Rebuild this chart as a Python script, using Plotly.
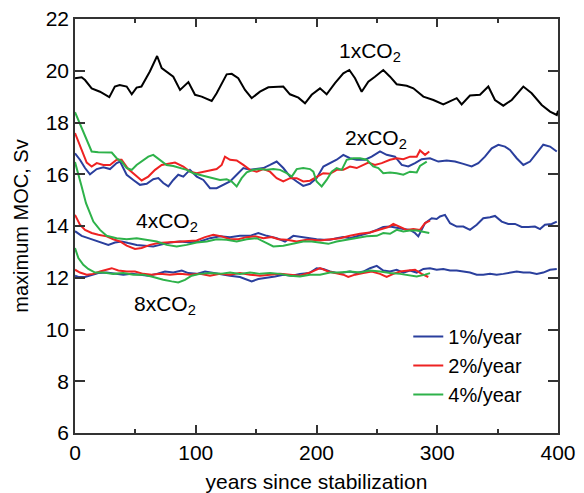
import plotly.graph_objects as go

# ---------------- data ----------------
x_1x = [0, 5.5, 8.3, 13.8, 20.7, 28.4, 33, 37, 42.8, 47, 51, 55, 62, 68, 71.8, 77.3, 81.4, 87, 93.9, 99.4,
        104.9, 113.2, 117.3, 125.6, 129.8, 135.2, 140.8, 146.3, 153.2, 160.1, 172.5, 178, 185, 190.5, 196,
        202.9, 208.4, 215.3, 222.2, 227.2, 231.9, 237.4, 242.9, 248.4, 255.3, 260.9, 266.4, 274.7, 280.2,
        288.5, 296.8, 305, 316.1, 320.2, 327.1, 335.4, 342.3, 347.8, 354.7, 361.7, 371.3, 378.2, 386.5,
        393.4, 399, 400]
y_1x = [19.71, 19.75, 19.64, 19.32, 19.19, 18.98, 19.39, 19.45, 19.39, 19.09, 19.35, 19.39, 19.97, 20.57,
        20.1, 19.9, 19.77, 19.26, 19.56, 19.07, 19.0, 18.83, 19.13, 19.86, 19.88, 19.71, 19.26, 18.94, 19.19,
        19.36, 19.39, 19.09, 18.96, 18.74, 19.07, 19.32, 19.09, 19.52, 19.9, 20.03, 19.71, 19.19, 19.58,
        19.77, 20.03, 19.77, 19.48, 19.42, 19.32, 19.0, 18.87, 18.7, 18.94, 18.7, 19.04, 19.07, 19.39, 18.87,
        18.65, 18.87, 19.39, 19.13, 18.68, 18.42, 18.29, 18.45]

# 2xCO2
x_2x_1 = [0, 4.1, 8.3, 12.4, 18, 23.5, 29, 34.5, 37.3, 42.8, 48.3, 53.8, 59.4, 64.8, 69, 73.1, 77.3, 81.4,
          85.5, 89.7, 95.2, 100.8, 106.3, 111.8, 117.3, 122.8, 128.4, 133.9, 139.4, 144.9, 150.5, 156, 161.5,
          167, 172.5, 178.1, 183.6, 189, 194.6, 200.1, 205.7, 211.2, 216.7, 222.2, 227.7, 233.3, 240.2, 245.7,
          252.6, 258.1, 265, 270.6, 276, 281.6, 287.1, 294, 300.9, 307.8, 314.7, 321.6, 328.5, 334, 339.5,
          345.1, 350.6, 356.1, 360.2, 365.8, 371.3, 376.8, 382.4, 387.8, 393.4, 399]
y_2x_1 = [16.81, 16.56, 16.24, 16.0, 16.2, 16.27, 16.2, 16.43, 16.49, 15.98, 15.78, 15.59, 15.63, 15.81,
          15.85, 15.66, 15.53, 15.78, 15.98, 15.91, 16.17, 15.91, 15.78, 15.46, 15.46, 15.59, 15.72, 15.98,
          16.24, 16.17, 16.2, 16.24, 16.36, 16.49, 16.24, 15.91, 15.72, 15.55, 15.63, 15.85, 16.3, 16.43,
          16.56, 16.75, 16.62, 16.56, 16.56, 16.68, 16.88, 16.75, 16.68, 16.36, 16.3, 16.43, 16.58, 16.62,
          16.49, 16.53, 16.49, 16.4, 16.3, 16.43, 16.68, 17.0, 17.14, 17.07, 16.94, 16.62, 16.36, 16.49,
          16.82, 17.14, 17.07, 16.88]
x_2x_2 = [0, 2.8, 5.5, 9.7, 13.8, 18, 23.5, 29, 34.5, 38.6, 44.1, 49.7, 55.2, 60.7, 66.3, 71.8, 77.3, 82.8,
          89.7, 95.2, 100.8, 106.3, 111.8, 117.3, 121.5, 124.2, 128.4, 133.9, 139.4, 144.9, 150.5, 156, 161.5,
          167, 172.5, 178.1, 183.6, 189, 194.6, 200.1, 205.6, 211.2, 216.7, 222.2, 227.7, 233.3, 238.8, 242.9,
          248.4, 254, 260.9, 266.4, 271.9, 277.4, 283, 285.7, 289.9, 293.4]
y_2x_2 = [17.59, 17.26, 16.88, 16.45, 16.3, 16.43, 16.36, 16.36, 16.56, 16.56, 16.2, 15.98, 15.76, 15.91,
          16.17, 16.36, 16.4, 16.45, 16.3, 16.1, 16.04, 16.1, 16.14, 16.2, 16.36, 16.68, 16.56, 16.53, 16.36,
          16.17, 16.1, 16.2, 16.1, 15.85, 15.72, 15.85, 15.85, 15.72, 15.75, 15.91, 16.04, 16.02, 16.17, 16.17,
          16.3, 16.24, 16.36, 16.45, 16.36, 16.43, 16.56, 16.62, 16.58, 16.68, 16.68, 16.92, 16.75, 16.88]
x_2x_4 = [0, 2.8, 6.9, 11, 13.8, 19.3, 26.2, 30.4, 34.5, 38.6, 42.8, 47, 51, 55.2, 60.7, 64.8, 70.4, 75.9,
          81.4, 87, 92.5, 98, 103.5, 109.1, 114.6, 120.1, 125.6, 129.8, 133.9, 138, 142.2, 147.7, 153.2, 158.8,
          164.2, 169.8, 175.3, 179.5, 183.6, 189, 194.6, 197.4, 200.1, 204.3, 208.4, 212.6, 216.7, 220.9, 225,
          230.5, 236, 241.6, 247, 251.2, 255.3, 260.9, 266.4, 271.9, 277.4, 283, 285.7, 289.9, 291.3]
y_2x_4 = [18.4, 18.1, 17.65, 17.2, 16.88, 16.85, 16.84, 16.84, 16.62, 16.49, 16.24, 16.17, 16.36, 16.49,
          16.68, 16.75, 16.56, 16.36, 16.32, 16.24, 16.17, 16.04, 15.98, 15.91, 15.85, 15.78, 15.81, 15.72,
          15.53, 15.85, 16.07, 16.17, 16.2, 16.17, 16.2, 16.17, 16.04, 15.91, 16.2, 16.24, 16.2, 16.1, 15.72,
          15.53, 15.78, 16.1, 16.24, 16.17, 16.56, 16.62, 16.62, 16.56, 16.3, 16.24, 16.04, 16.07, 16.04,
          15.98, 16.1, 16.07, 16.32, 16.43, 16.49]

# 4xCO2
x_4x_1 = [0, 5.5, 11, 16.6, 22.1, 27.6, 33.1, 38.7, 44.1, 51.1, 58, 64.8, 70.4, 78.7, 87, 95.2, 103.5, 111.8,
          120.1, 128.4, 136.6, 144.9, 151.8, 158.8, 167, 173.9, 180.8, 189, 196, 200.1, 205.7, 211.2, 216.7,
          222.2, 227.7, 233.3, 238.8, 244.3, 249.9, 255.3, 260.9, 266.4, 271.9, 277.4, 281.6, 284.3, 287.1,
          289.9, 295.4, 299.5, 302.3, 306.4, 310.6, 316.1, 321.6, 327.1, 332.7, 338.1, 343.7, 347.8, 353.4,
          358.8, 364.4, 369.9, 375.4, 380.9, 385.1, 389.2, 394.8, 399]
y_4x_1 = [13.8, 13.62, 13.53, 13.44, 13.34, 13.27, 13.36, 13.4, 13.34, 13.27, 13.24, 13.21, 13.27, 13.36,
          13.4, 13.36, 13.4, 13.53, 13.6, 13.57, 13.62, 13.62, 13.73, 13.62, 13.53, 13.4, 13.62, 13.57, 13.5,
          13.49, 13.47, 13.47, 13.53, 13.57, 13.53, 13.6, 13.66, 13.75, 13.85, 13.96, 13.98, 13.92, 13.88,
          13.85, 13.73, 13.6, 13.88, 14.11, 14.3, 14.27, 14.37, 14.43, 14.11, 13.98, 13.98, 13.85, 14.05,
          14.3, 14.34, 14.39, 14.17, 14.08, 14.08, 13.96, 13.96, 13.98, 13.88, 14.05, 14.08, 14.17]
x_4x_2 = [0, 4.1, 8.3, 13.8, 19.3, 26.2, 31.7, 37.3, 42.8, 49.7, 55.2, 62.1, 69, 75.9, 84.2, 92.5, 100.8,
          107.7, 114.6, 121.5, 128.4, 135.2, 142.2, 149.1, 156, 162.9, 168.4, 175.3, 183.6, 191.9, 196, 202.9,
          211.2, 219.5, 227.7, 236, 244.3, 252.6, 259.5, 263.6, 269.2, 274.7, 280.2, 285.7, 289.9, 294]
y_4x_2 = [14.43, 14.05, 13.85, 13.73, 13.66, 13.6, 13.49, 13.4, 13.24, 13.11, 13.15, 13.27, 13.34, 13.36,
          13.4, 13.4, 13.44, 13.57, 13.66, 13.6, 13.49, 13.49, 13.57, 13.6, 13.53, 13.57, 13.49, 13.47, 13.4,
          13.47, 13.47, 13.44, 13.49, 13.53, 13.62, 13.7, 13.75, 13.88, 13.96, 14.08, 13.96, 13.85, 13.88,
          13.85, 14.11, 14.21]
x_4x_4 = [0, 2.8, 5.5, 9.1, 12.4, 15.2, 20.7, 26.2, 34.5, 42.8, 51.1, 59.4, 67.7, 75.9, 84.2, 92.5, 100.8,
          109.1, 117.3, 125.6, 133.9, 142.2, 150.5, 158.8, 164.2, 172.5, 180.8, 189, 196, 202.9, 209.8, 216.7,
          225, 233.3, 241.6, 249.9, 255.3, 260.9, 266.4, 271.9, 277.4, 283, 288.5, 293.4]
y_4x_4 = [16.47, 16.04, 15.53, 14.88, 14.5, 14.17, 13.85, 13.62, 13.53, 13.49, 13.53, 13.47, 13.4, 13.27,
          13.21, 13.27, 13.36, 13.4, 13.49, 13.47, 13.4, 13.49, 13.53, 13.34, 13.21, 13.24, 13.31, 13.4, 13.4,
          13.36, 13.31, 13.4, 13.47, 13.53, 13.6, 13.62, 13.73, 13.7, 13.85, 13.79, 13.83, 13.83, 13.79, 13.73]

# 8xCO2
x_8x_1 = [0, 2.8, 8.3, 13.8, 19.3, 26.2, 33.1, 40, 47, 53.8, 60.7, 67.7, 74.5, 81.4, 88.4, 93.8, 100.8,
          107.7, 114.6, 121.5, 128.4, 136.6, 142.2, 146.3, 151.8, 158.8, 165.6, 172.5, 179.5, 186.3, 194,
          200.1, 205.6, 211.2, 216.7, 222.2, 227.7, 233.3, 238.8, 244.3, 249.9, 255.3, 260.9, 266.4, 271.9,
          277.4, 283, 288.5, 294, 299.5, 305, 310.6, 316.1, 321.6, 327.1, 332.7, 338.1, 343.7, 349.2, 354.7,
          360.2, 365.8, 371.3, 376.8, 382.4, 387.8, 393.4, 399]
y_8x_1 = [12.08, 12.03, 12.03, 12.12, 12.18, 12.2, 12.15, 12.12, 12.15, 12.12, 12.08, 12.15, 12.24, 12.2,
          12.28, 12.18, 12.15, 12.24, 12.18, 12.12, 12.08, 12.03, 11.92, 11.86, 11.95, 11.99, 12.05, 12.12,
          12.08, 12.15, 12.18, 12.37, 12.34, 12.24, 12.18, 12.2, 12.24, 12.18, 12.24, 12.37, 12.46, 12.28,
          12.24, 12.31, 12.2, 12.28, 12.2, 12.34, 12.37, 12.31, 12.34, 12.28, 12.28, 12.24, 12.2, 12.12,
          12.12, 12.15, 12.12, 12.15, 12.2, 12.24, 12.2, 12.2, 12.15, 12.2, 12.31, 12.34]
x_8x_2 = [0, 4.1, 9.7, 15.2, 20.7, 26.2, 30.4, 35.9, 42.8, 49.7, 56.6, 63.5, 70.4, 78.7, 87, 95.2, 103.5,
          111.8, 120.1, 128.4, 136.6, 144.9, 153.2, 161.5, 169.8, 178.1, 186.3, 194.6, 202.9, 209.8, 216.7,
          222.2, 226.3, 231.9, 238.8, 245.7, 252.6, 258.1, 263.6, 269.2, 276, 281.6, 287.1, 292.6]
y_8x_2 = [12.31, 12.2, 12.12, 12.15, 12.24, 12.31, 12.37, 12.28, 12.24, 12.24, 12.15, 12.12, 12.15, 12.12,
          12.15, 12.12, 12.15, 12.08, 12.15, 12.12, 12.18, 12.12, 12.08, 12.12, 12.15, 12.12, 12.08, 12.2,
          12.37, 12.24, 12.18, 12.12, 12.03, 12.12, 12.18, 12.24, 12.15, 12.03, 12.15, 12.24, 12.28, 12.31,
          12.15, 12.03]
x_8x_4 = [0, 2.8, 6.9, 11, 16.6, 23.5, 31.7, 40, 48.3, 56.6, 64.8, 73.1, 80.1, 85.5, 91.1, 96.6, 103.5,
          111.8, 120.1, 128.4, 136.6, 144.9, 153.2, 161.5, 169.8, 178.1, 186.3, 194.6, 202.9, 211.2, 219.5,
          227.7, 236, 244.3, 252.6, 260.9, 269.2, 277.4, 283, 289.9, 294]
y_8x_4 = [13.15, 12.76, 12.5, 12.34, 12.2, 12.2, 12.15, 12.18, 12.12, 12.12, 12.03, 11.92, 11.86, 11.82,
          11.92, 12.08, 12.15, 12.18, 12.15, 12.2, 12.15, 12.2, 12.15, 12.18, 12.15, 12.08, 12.05, 12.12,
          12.12, 12.2, 12.2, 12.24, 12.2, 12.28, 12.24, 12.18, 12.15, 12.08, 12.05, 12.12, 12.18]

rate_names = ["1%/year", "2%/year", "4%/year"]
rate_colors = ["#2a3f9d", "#ee2222", "#2eb24a"]

scenario_labels = ["1xCO<sub>2</sub>", "2xCO<sub>2</sub>", "4xCO<sub>2</sub>", "8xCO<sub>2</sub>"]
label_x = [244, 249, 76, 74.5]
label_y = [20.73, 17.37, 14.16, 10.96]

x_ticks = [0, 100, 200, 300, 400]
y_ticks = [6, 8, 10, 12, 14, 16, 18, 20, 22]

# ---------------- figure ----------------
FONT = "Arial, Liberation Sans, sans-serif"
fig = go.Figure()

fig.add_trace(go.Scatter(x=x_1x, y=y_1x, mode="lines", line=dict(color="black", width=2),
                         showlegend=False, hoverinfo="skip"))

groups = [
    [(x_2x_1, y_2x_1), (x_2x_2, y_2x_2), (x_2x_4, y_2x_4)],
    [(x_4x_1, y_4x_1), (x_4x_2, y_4x_2), (x_4x_4, y_4x_4)],
    [(x_8x_1, y_8x_1), (x_8x_2, y_8x_2), (x_8x_4, y_8x_4)],
]
for gi, grp in enumerate(groups):
    for ri, (xs, ys) in enumerate(grp):
        fig.add_trace(go.Scatter(x=xs, y=ys, mode="lines", name=rate_names[ri],
                                 line=dict(color=rate_colors[ri], width=2),
                                 showlegend=(gi == 0)))

for txt, lx, ly in zip(scenario_labels, label_x, label_y):
    fig.add_annotation(x=lx, y=ly, text=txt, showarrow=False,
                       font=dict(family=FONT, size=21, color="black"))

axis_common = dict(showline=True, linecolor="#333333", linewidth=1.5, mirror="ticks",
                   ticks="inside", tickwidth=1.5, tickcolor="#333333", showgrid=False,
                   zeroline=False, tickfont=dict(family=FONT, size=21, color="black"))

fig.update_xaxes(range=[0, 400], tickvals=x_ticks, ticklen=8,
                 minor=dict(dtick=50, ticks="inside", ticklen=4, tickwidth=1.5, tickcolor="#333333"),
                 title=dict(text="years since stabilization", standoff=14,
                            font=dict(family=FONT, size=21, color="black")),
                 **axis_common)
fig.update_yaxes(range=[6, 22], tickvals=y_ticks, ticklen=10,
                 title=dict(text="maximum MOC, Sv", standoff=12,
                            font=dict(family=FONT, size=20, color="black")),
                 **axis_common)

fig.update_layout(
    width=584, height=493,
    margin=dict(l=75, r=26, t=19, b=60, autoexpand=False),
    paper_bgcolor="white", plot_bgcolor="white",
    font=dict(family=FONT, size=20, color="black"),
    legend=dict(x=0.69, y=0.28, xanchor="left", yanchor="top", bgcolor="rgba(0,0,0,0)",
                font=dict(family=FONT, size=20, color="black"), tracegroupgap=0),
)

fig.write_html("out.html")
